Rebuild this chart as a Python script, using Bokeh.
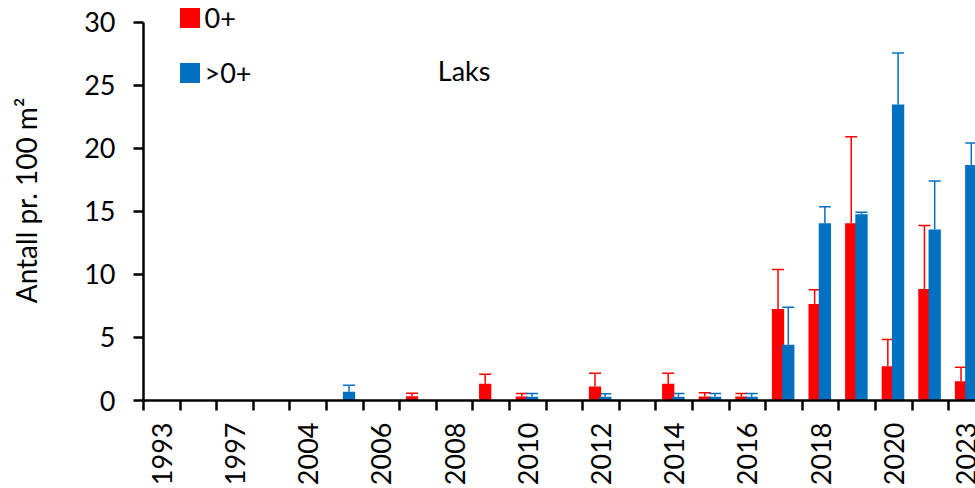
import numpy as np
from bokeh.plotting import figure
from bokeh.models import (Range1d, FixedTicker, Whisker, TeeHead, ColumnDataSource,
                          Legend, LegendItem, Label)
from bokeh.transform import dodge
from bokeh.embed import file_html
from bokeh.resources import INLINE

# ---- data ----
years = ["1993", "1995", "1997", "2000", "2004", "2005", "2006", "2007", "2008", "2009",
         "2010", "2011", "2012", "2013", "2014", "2015", "2016", "2017", "2018", "2019",
         "2020", "2021", "2023"]
fry = [None, None, None, None, None, None, None, 0.34, None, 1.32,
       0.32, None, 1.11, None, 1.32, 0.32, 0.32, 7.26, 7.65, 14.07,
       2.72, 8.84, 1.53]
fry_sd = [None, None, None, None, None, None, None, 0.24, None, 0.76,
          0.23, None, 1.05, None, 0.84, 0.29, 0.23, 3.14, 1.14, 6.86,
          2.13, 5.04, 1.11]
parr = [None, None, None, None, None, 0.69, None, None, None, None,
        0.29, None, 0.29, None, 0.29, 0.29, 0.29, 4.43, 14.07, 14.78,
        23.49, 13.56, 18.69]
parr_sd = [None, None, None, None, None, 0.52, None, None, None, None,
           0.26, None, 0.24, None, 0.26, 0.26, 0.26, 2.96, 1.31, 0.16,
           4.09, 3.86, 1.74]
series_labels = ["0+", ">0+"]
title_text = "Laks"
y_ticks = [0, 5, 10, 15, 20, 25, 30]

RED = "#FF0000"
BLUE = "#0070C0"
FONT = "Lato"
FS = "27px"

def arr(v):
    return np.array([np.nan if x is None else x for x in v], dtype=float)

idx = np.arange(len(years))
src = ColumnDataSource(dict(i=idx, fry=arr(fry), parr=arr(parr)))

p = figure(width=975, height=488, output_backend="svg", toolbar_location=None,
           x_range=Range1d(-0.5, 22.23), y_range=Range1d(0, 31.74),
           min_border_left=143, min_border_right=0, min_border_top=0,
           min_border_bottom=87)
p.outline_line_color = None
p.grid.visible = False
p.background_fill_color = "white"
p.border_fill_color = "white"

OFF_R, OFF_B, W = -0.165, 0.115, 0.336
r_red = p.vbar(x=dodge("i", OFF_R, range=p.x_range), top="fry", width=W, source=src,
               fill_color=RED, line_color=None)
r_blue = p.vbar(x=dodge("i", OFF_B, range=p.x_range), top="parr", width=W, source=src,
                fill_color=BLUE, line_color=None)

def add_whisker(vals, sds, off, color):
    v = arr(vals); s = arr(sds)
    m = ~np.isnan(v) & ~np.isnan(s)
    ws = ColumnDataSource(dict(i=idx[m], lower=v[m], upper=(v + s)[m]))
    w = Whisker(source=ws, base=dodge("i", off, range=p.x_range), lower="lower", upper="upper",
                line_color=color, line_width=1.5,
                upper_head=TeeHead(size=12, line_color=color, line_width=1.5),
                lower_head=None)
    p.add_layout(w)

add_whisker(fry, fry_sd, OFF_R, RED)
add_whisker(parr, parr_sd, OFF_B, BLUE)

# y axis
ya = p.yaxis[0]
ya.ticker = FixedTicker(ticks=y_ticks)
ya.bounds = (0, 30)
ya.axis_line_width = 2.5
ya.major_tick_line_width = 2.5
ya.major_tick_out = 10
ya.major_tick_in = 0
ya.minor_tick_line_color = None
ya.major_label_text_font = FONT
ya.major_label_text_font_size = FS
ya.major_label_text_color = "black"
ya.major_label_standoff = 18
ya.axis_label = "Antall pr. 100 m²"
ya.axis_label_text_font = FONT
ya.axis_label_text_font_size = "28px"
ya.axis_label_text_font_style = "normal"
ya.axis_label_text_color = "black"
ya.axis_label_standoff = 38

# x axis
xa = p.xaxis[0]
xa.ticker = FixedTicker(ticks=[int(i) for i in idx if i % 2 == 0],
                        minor_ticks=[k - 0.5 for k in range(len(years) + 1)])
xa.major_label_overrides = {int(i): years[i] for i in idx if i % 2 == 0}
xa.axis_line_width = 2.5
xa.major_tick_line_color = None
xa.major_tick_out = 10
xa.major_tick_in = 0
xa.minor_tick_line_width = 2.5
xa.minor_tick_line_color = "black"
xa.minor_tick_out = 10
xa.minor_tick_in = 0
xa.major_label_orientation = np.pi / 2
xa.major_label_text_font = FONT
xa.major_label_text_font_size = FS
xa.major_label_text_color = "black"
xa.major_label_standoff = 12

legend = Legend(items=[LegendItem(label=series_labels[0], renderers=[r_red]),
                       LegendItem(label=series_labels[1], renderers=[r_blue])],
                location=(33.5, 311), orientation="vertical",
                glyph_width=25, glyph_height=25, label_height=30,
                label_text_font=FONT, label_text_font_size=FS, label_standoff=3,
                label_text_color="black",
                spacing=22, padding=0, margin=0, border_line_color=None,
                background_fill_alpha=0)
p.add_layout(legend)

p.add_layout(Label(x=7.54, y=26.2, text=title_text, text_font=FONT, text_font_size=FS,
                   text_baseline="alphabetic", text_color="black"))

open("out.html", "w").write(file_html(p, INLINE))
